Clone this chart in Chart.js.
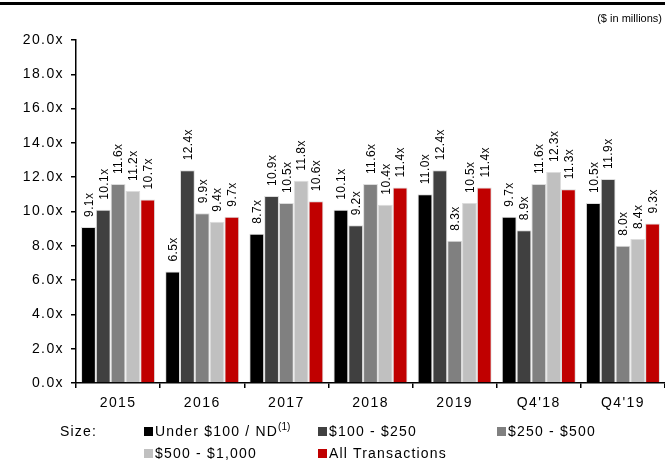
<!DOCTYPE html>
<html>
<head>
<meta charset="utf-8">
<script src="https://cdn.jsdelivr.net/npm/chart.js@4/dist/chart.umd.min.js"></script>
<style>
  body { margin: 0; background: #fff; font-family: "Liberation Sans", Arial, sans-serif; }
  #wrap { position: relative; width: 665px; height: 460px; overflow: hidden; }
  #topline { position: absolute; left: 0; top: 2px; width: 665px; height: 3px; background: #000; }
  #unit { position: absolute; right: 3px; top: 12px; font-size: 11px; color: #000; }
  #legend { position: absolute; left: 0; top: 0; width: 665px; height: 460px; pointer-events: none; font-size: 14px; letter-spacing: 1.2px; color: #000; }
  .lg { position: absolute; white-space: nowrap; line-height: 16px; }
  .sw { display: inline-block; width: 9px; height: 9px; margin-right: 2px; vertical-align: 0px; }
  sup { font-size: 10px; letter-spacing: 0; line-height: 0; vertical-align: 6px; }
</style>
</head>
<body>
<div id="wrap">
  <canvas id="myBarChart" width="665" height="460"></canvas>
  <div id="topline"></div>
  <div id="unit">($ in millions)</div>
  <div id="legend"></div>
</div>
<script>
let categories = ["2015", "2016", "2017", "2018", "2019", "Q4'18", "Q4'19"];
let seriesNames = ["Under $100 / ND", "$100 - $250", "$250 - $500", "$500 - $1,000", "All Transactions"];
let barColors = ["#000000", "#404040", "#808080", "#c0c0c0", "#c00000"];

let under100 = [9.1, 6.5, 8.7, 10.1, 11.0, 9.7, 10.5];
let from100to250 = [10.1, 12.4, 10.9, 9.2, 12.4, 8.9, 11.9];
let from250to500 = [11.6, 9.9, 10.5, 11.6, 8.3, 11.6, 8.0];
let from500to1000 = [11.2, 9.4, 11.8, 10.4, 10.5, 12.3, 8.4];
let allTransactions = [10.7, 9.7, 10.6, 11.4, 11.4, 11.3, 9.3];

let yTicks = [0, 2, 4, 6, 8, 10, 12, 14, 16, 18, 20];

let seriesValues = [under100, from100to250, from250to500, from500to1000, allTransactions];

let datasets = [];
for (let i = 0; i < seriesValues.length; i++) {
  datasets.push({
    label: seriesNames[i],
    data: seriesValues[i],
    backgroundColor: barColors[i],
    borderColor: "#dcdcdc",
    borderWidth: 1,
    borderSkipped: "bottom",
    categoryPercentage: 0.88,
    barPercentage: 1.0,
  });
}

// wider letter spacing for the axis text, like the original
const spacing = {
  id: "spacing",
  beforeDraw(chart) {
    chart.ctx.letterSpacing = "1.4px";
  },
};

// rotated value labels above each bar
const barLabels = {
  id: "barLabels",
  afterDatasetsDraw(chart) {
    let ctx = chart.ctx;
    ctx.save();
    ctx.letterSpacing = "0.4px";
    ctx.font = "12px 'Liberation Sans', Arial, sans-serif";
    ctx.fillStyle = "#000";
    ctx.textAlign = "left";
    ctx.textBaseline = "middle";
    chart.data.datasets.forEach((ds, i) => {
      chart.getDatasetMeta(i).data.forEach((bar, j) => {
        ctx.save();
        ctx.translate(bar.x + 1, bar.y - 10);
        ctx.rotate(-Math.PI / 2);
        ctx.fillText(ds.data[j].toFixed(1) + "x", 0, 0);
        ctx.restore();
      });
    });
    ctx.restore();
  },
};

let chart1 = document.getElementById("myBarChart").getContext("2d");

const myChart1 = new Chart(chart1, {
  type: "bar",
  data: {
    labels: categories,
    datasets: datasets,
  },
  options: {
    responsive: false,
    animation: false,
    layout: { padding: { top: 40, right: 0, bottom: 45, left: 0 } },
    plugins: {
      legend: { display: false },
      tooltip: { enabled: false },
    },
    scales: {
      x: {
        clip: false,
        grid: { drawOnChartArea: false, offset: true, tickLength: 5, color: "#000", lineWidth: 1.5 },
        border: { color: "#000", width: 1.5 },
        ticks: { color: "#000", font: { size: 14, family: "'Liberation Sans', Arial" }, padding: 7 },
        afterFit(s) { s.height = 32; },
      },
      y: {
        min: 0,
        max: 20,
        afterBuildTicks(s) { s.ticks = yTicks.map((v) => ({ value: v })); },
        grid: { drawOnChartArea: false, tickLength: 5, color: "#000", lineWidth: 1.5 },
        border: { color: "#000", width: 1.5 },
        ticks: {
          color: "#000",
          font: { size: 14, family: "'Liberation Sans', Arial" },
          padding: 7,
          callback: (v) => v.toFixed(1) + "x",
        },
        afterFit(s) { s.width = 76; },
      },
    },
  },
  plugins: [spacing, barLabels],
});

// legend built from the series
let legendPos = [[144, 423], [318, 423], [497, 423], [144, 445], [318, 445]];
let str = `<div class="lg" style="left:60px;top:423px">Size:</div>`;
for (let i = 0; i < seriesNames.length; i++) {
  let name = seriesNames[i];
  if (i === 0) name += "<sup>(1)</sup>";
  str += `<div class="lg" style="left:${legendPos[i][0]}px;top:${legendPos[i][1]}px"><span class="sw" style="background:${barColors[i]}"></span>${name}</div>`;
}
document.getElementById("legend").innerHTML = str;
</script>
</body>
</html>
